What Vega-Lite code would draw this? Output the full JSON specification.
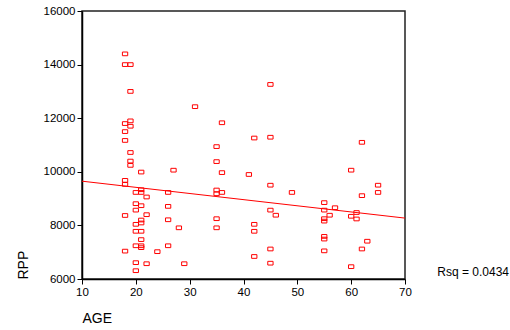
{
  "$schema": "https://vega.github.io/schema/vega-lite/v6.json",
  "width": 323,
  "height": 268,
  "autosize": {"type": "none"},
  "padding": {"left": 82, "top": 11, "right": 105, "bottom": 51},
  "background": "white",
  "config": {
    "view": {"stroke": "#222", "strokeWidth": 1.5},
    "axis": {
      "domainColor": "#000",
      "domainWidth": 1.5,
      "tickColor": "#000",
      "tickSize": 5,
      "labelColor": "#000",
      "labelFont": "Liberation Sans",
      "labelFontSize": 11.5,
      "labelFlush": false,
      "titleFont": "Liberation Sans",
      "titleFontSize": 14,
      "titleFontWeight": "normal",
      "titleColor": "#000",
      "grid": false
    }
  },
  "data": {
    "values": [
      {"AGE": 18, "RPP": 14400}, {"AGE": 18, "RPP": 14000}, {"AGE": 19, "RPP": 14000},
      {"AGE": 19, "RPP": 13000}, {"AGE": 19, "RPP": 11900}, {"AGE": 18, "RPP": 11800},
      {"AGE": 19, "RPP": 11700}, {"AGE": 18, "RPP": 11500}, {"AGE": 18, "RPP": 11170},
      {"AGE": 19, "RPP": 10720}, {"AGE": 19, "RPP": 10400}, {"AGE": 19, "RPP": 10240},
      {"AGE": 21, "RPP": 9990}, {"AGE": 27, "RPP": 10060}, {"AGE": 18, "RPP": 9680},
      {"AGE": 18, "RPP": 9530}, {"AGE": 21, "RPP": 9330}, {"AGE": 20, "RPP": 9230},
      {"AGE": 21, "RPP": 9230}, {"AGE": 26, "RPP": 9230}, {"AGE": 22, "RPP": 9060},
      {"AGE": 20, "RPP": 8810}, {"AGE": 21, "RPP": 8735}, {"AGE": 26, "RPP": 8710},
      {"AGE": 20, "RPP": 8570}, {"AGE": 18, "RPP": 8370}, {"AGE": 22, "RPP": 8400},
      {"AGE": 26, "RPP": 8210}, {"AGE": 21, "RPP": 8200}, {"AGE": 21, "RPP": 8090},
      {"AGE": 20, "RPP": 8040}, {"AGE": 20, "RPP": 7780}, {"AGE": 21, "RPP": 7780},
      {"AGE": 21, "RPP": 7470}, {"AGE": 20, "RPP": 7240}, {"AGE": 21, "RPP": 7240},
      {"AGE": 21, "RPP": 7170}, {"AGE": 26, "RPP": 7240}, {"AGE": 18, "RPP": 7040},
      {"AGE": 24, "RPP": 7020}, {"AGE": 20, "RPP": 6610}, {"AGE": 22, "RPP": 6570},
      {"AGE": 20, "RPP": 6310}, {"AGE": 31, "RPP": 12430}, {"AGE": 36, "RPP": 11830},
      {"AGE": 42, "RPP": 11260}, {"AGE": 45, "RPP": 11290}, {"AGE": 35, "RPP": 10940},
      {"AGE": 35, "RPP": 10380}, {"AGE": 36, "RPP": 9970}, {"AGE": 41, "RPP": 9900},
      {"AGE": 35, "RPP": 9320}, {"AGE": 35, "RPP": 9180}, {"AGE": 36, "RPP": 9230},
      {"AGE": 35, "RPP": 8250}, {"AGE": 28, "RPP": 7910}, {"AGE": 35, "RPP": 7910},
      {"AGE": 42, "RPP": 8040}, {"AGE": 42, "RPP": 7780}, {"AGE": 42, "RPP": 6840},
      {"AGE": 29, "RPP": 6570}, {"AGE": 45, "RPP": 13260}, {"AGE": 45, "RPP": 9500},
      {"AGE": 49, "RPP": 9230}, {"AGE": 45, "RPP": 8570}, {"AGE": 46, "RPP": 8380},
      {"AGE": 45, "RPP": 7120}, {"AGE": 45, "RPP": 6590}, {"AGE": 55, "RPP": 8850},
      {"AGE": 57, "RPP": 8660}, {"AGE": 55, "RPP": 8570}, {"AGE": 56, "RPP": 8380},
      {"AGE": 55, "RPP": 8250}, {"AGE": 55, "RPP": 8160}, {"AGE": 55, "RPP": 7590},
      {"AGE": 55, "RPP": 7490}, {"AGE": 55, "RPP": 7050}, {"AGE": 62, "RPP": 11100},
      {"AGE": 60, "RPP": 10060}, {"AGE": 65, "RPP": 9500}, {"AGE": 65, "RPP": 9230},
      {"AGE": 62, "RPP": 9110}, {"AGE": 61, "RPP": 8480}, {"AGE": 60, "RPP": 8340},
      {"AGE": 61, "RPP": 8240}, {"AGE": 63, "RPP": 7410}, {"AGE": 62, "RPP": 7120},
      {"AGE": 60, "RPP": 6460}
    ]
  },
  "encoding": {
    "x": {
      "field": "AGE",
      "type": "quantitative",
      "scale": {"domain": [10, 70], "nice": false, "zero": false},
      "axis": {"values": [10, 20, 30, 40, 50, 60, 70], "format": "d", "title": "AGE", "titleAnchor": "start", "labelPadding": 2, "titlePadding": 14}
    },
    "y": {
      "field": "RPP",
      "type": "quantitative",
      "scale": {"domain": [6000, 16000], "nice": false, "zero": false},
      "axis": {"values": [6000, 8000, 10000, 12000, 14000, 16000], "format": "d", "title": "RPP", "titleAnchor": "start", "labelPadding": 2, "titlePadding": 13}
    }
  },
  "layer": [
    {
      "mark": {
        "type": "point",
        "shape": "M-1,-0.7H1V0.7H-1Z",
        "size": 28,
        "filled": false,
        "color": "#ff0000",
        "strokeWidth": 1,
        "opacity": 1
      }
    },
    {
      "transform": [{"regression": "RPP", "on": "AGE", "extent": [10, 70]}],
      "mark": {"type": "line", "color": "#ff0000", "strokeWidth": 1}
    },
    {
      "data": {"values": [{"label": "Rsq = 0.0434", "AGE": 76, "RPP": 6250}]},
      "mark": {"type": "text", "align": "left", "baseline": "middle", "font": "Liberation Sans", "fontSize": 12, "color": "#000", "clip": false},
      "encoding": {
        "text": {"field": "label", "type": "nominal"}
      }
    }
  ]
}
